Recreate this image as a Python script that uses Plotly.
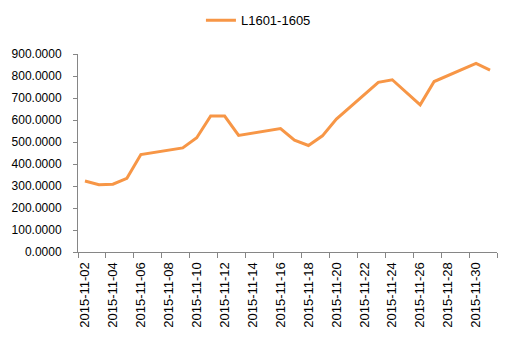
import plotly.graph_objects as go

dates = ["2015-11-02", "2015-11-03", "2015-11-04", "2015-11-05", "2015-11-06",
         "2015-11-09", "2015-11-10", "2015-11-11", "2015-11-12", "2015-11-13",
         "2015-11-16", "2015-11-17", "2015-11-18", "2015-11-19", "2015-11-20",
         "2015-11-23", "2015-11-24", "2015-11-25", "2015-11-26", "2015-11-27",
         "2015-11-30", "2015-12-01"]
values = [323, 306, 308, 335, 443,
          473, 519, 618, 618, 530,
          561, 508, 484, 528, 604,
          771, 783, 728, 669, 775,
          857, 827]
label_dates = ["2015-11-02", "2015-11-04", "2015-11-06", "2015-11-08", "2015-11-10",
               "2015-11-12", "2015-11-14", "2015-11-16", "2015-11-18", "2015-11-20",
               "2015-11-22", "2015-11-24", "2015-11-26", "2015-11-28", "2015-11-30"]
series_name = "L1601-1605"

FONT = "Liberation Sans"
AX = "#868686"

fig = go.Figure()
fig.add_trace(go.Scatter(x=dates, y=values, mode="lines", name=series_name,
                         line=dict(color="#F79646", width=3)))

fig.update_layout(
    width=510, height=348,
    margin=dict(l=78, r=13, t=54, b=96),
    paper_bgcolor="white", plot_bgcolor="white",
    font=dict(family=FONT, size=13, color="#000000"),
    showlegend=True,
    legend=dict(orientation="h", xref="container", yref="container",
                x=0.394, xanchor="left", y=0.985, yanchor="top",
                font=dict(family=FONT, size=13)),
    xaxis=dict(
        type="date", automargin=False,
        range=["2015-11-01 12:00", "2015-12-01 12:00"],
        tickmode="array", tickvals=label_dates, ticktext=label_dates,
        tickangle=-90, ticks="", showgrid=False,
        showline=True, linecolor=AX, linewidth=1,
        ticklabelstandoff=4,
        minor=dict(tickmode="linear", tick0="2015-11-01 12:00", dtick=2 * 86400000,
                   ticks="outside", ticklen=5, tickcolor=AX, showgrid=False),
        zeroline=False,
    ),
    yaxis=dict(
        automargin=False,
        range=[0, 900], dtick=100, tick0=0, tickformat=".4f",
        tickfont=dict(family=FONT, size=12),
        showgrid=False, showline=True, linecolor=AX, linewidth=1,
        ticks="outside", ticklen=4, tickcolor=AX, zeroline=False,
        ticklabelstandoff=9,
    ),
)

fig.write_html("out.html")
